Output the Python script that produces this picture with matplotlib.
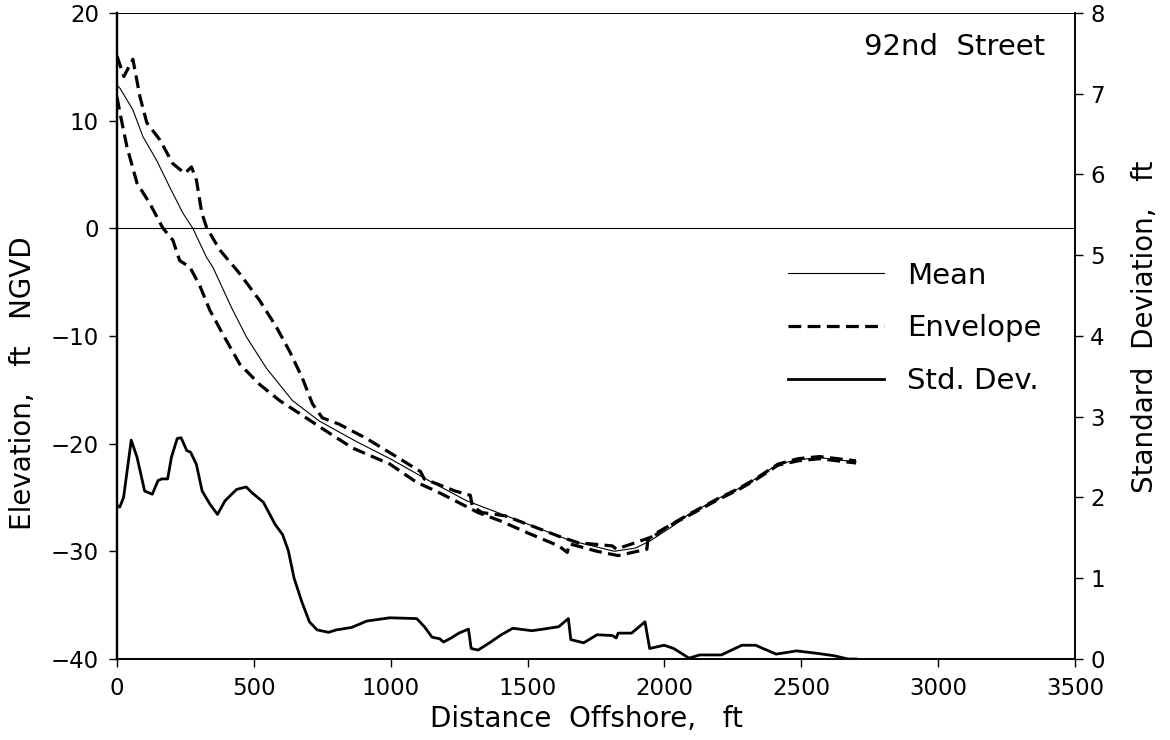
import matplotlib
matplotlib.use("Agg")
import matplotlib.pyplot as plt

plt.rcParams['font.family'] = ['DejaVu Sans']

# profile values (x in ft offshore, elevation in ft NGVD)
mean_x = [0, 11, 58, 95, 145, 193, 241, 277, 327, 350, 419, 473, 546, 641, 739, 874,
          1005, 1137, 1277, 1473, 1656, 1817, 1894, 1950, 2034, 2087, 2196, 2269, 2331,
          2415, 2488, 2567, 2633, 2700]
mean_y = [13.3, 13.0, 11.0, 8.5, 6.3, 3.8, 1.4, 0.0, -2.7, -3.6, -7.4, -10.1, -13.0, -16.0,
          -17.9, -19.8, -21.5, -23.4, -25.3, -27.2, -29.0, -30.0, -29.7, -29.0, -27.6, -26.6,
          -25.1, -24.2, -23.3, -21.9, -21.5, -21.3, -21.5, -21.7]

upper_x = [0, 25, 58, 84, 109, 157, 204, 248, 272, 290, 310, 327, 375, 448, 521, 583, 630,
           677, 714, 750, 812, 910, 1020, 1109, 1123, 1165, 1235, 1291, 1298, 1333, 1417,
           1501, 1614, 1684, 1810, 1824, 1894, 1950, 1978, 2087, 2196, 2269, 2331, 2415,
           2488, 2567, 2633, 2700]
upper_y = [16.0, 14.1, 15.7, 12.2, 9.8, 8.2, 6.0, 5.1, 5.7, 4.5, 1.4, 0.1, -2.0, -4.2, -6.7,
           -9.2, -11.4, -13.9, -16.3, -17.6, -18.2, -19.5, -21.2, -22.6, -23.3, -23.7, -24.4,
           -24.8, -25.8, -26.4, -26.7, -27.5, -28.6, -29.2, -29.5, -29.8, -29.2, -28.7, -28.2,
           -26.6, -25.1, -24.2, -23.3, -21.9, -21.4, -21.2, -21.4, -21.6]

lower_x = [0, 11, 36, 73, 120, 168, 204, 229, 266, 302, 339, 386, 448, 521, 594, 667, 750,
           860, 997, 1095, 1165, 1235, 1319, 1403, 1501, 1614, 1645, 1653, 1754, 1831, 1936,
           1939, 2006, 2087, 2196, 2269, 2331, 2415, 2488, 2567, 2633, 2700]
lower_y = [12.2, 10.7, 7.6, 4.2, 2.3, 0.0, -1.1, -3.0, -3.6, -5.3, -7.6, -9.8, -12.6, -14.5,
           -16.0, -17.2, -18.6, -20.4, -21.9, -23.6, -24.4, -25.3, -26.4, -27.2, -28.3, -29.5,
           -30.1, -29.3, -30.0, -30.4, -29.8, -29.0, -27.8, -26.7, -25.2, -24.3, -23.4, -22.0,
           -21.6, -21.4, -21.6, -21.8]

std_x = [0, 10, 24, 52, 73, 101, 129, 150, 164, 185, 199, 220, 234, 255, 269, 290, 311, 339,
         367, 395, 437, 472, 493, 535, 577, 605, 626, 647, 675, 703, 731, 773, 801, 857, 913,
         997, 1095, 1123, 1151, 1179, 1193, 1221, 1249, 1284, 1294, 1319, 1361, 1404, 1446,
         1516, 1558, 1614, 1649, 1658, 1705, 1754, 1810, 1824, 1831, 1880, 1929, 1946, 1999,
         2034, 2090, 2129, 2208, 2283, 2333, 2408, 2483, 2557, 2620, 2670, 2700]
std_y = [1.90, 1.88, 2.0, 2.71, 2.50, 2.08, 2.04, 2.21, 2.23, 2.23, 2.50, 2.73, 2.74, 2.58,
         2.56, 2.41, 2.08, 1.92, 1.79, 1.96, 2.10, 2.13, 2.06, 1.94, 1.67, 1.54, 1.34, 1.00,
         0.71, 0.46, 0.36, 0.33, 0.36, 0.39, 0.47, 0.51, 0.50, 0.40, 0.27, 0.25, 0.21, 0.26,
         0.32, 0.37, 0.13, 0.11, 0.20, 0.30, 0.38, 0.35, 0.37, 0.40, 0.50, 0.24, 0.20, 0.30,
         0.29, 0.26, 0.32, 0.32, 0.46, 0.13, 0.17, 0.13, 0.01, 0.05, 0.05, 0.17, 0.17, 0.06,
         0.10, 0.07, 0.04, 0.0, 0.0]

x_ticks = [0, 500, 1000, 1500, 2000, 2500, 3000, 3500]
elev_ticks = [20, 10, 0, -10, -20, -30, -40]
std_ticks = [0, 1, 2, 3, 4, 5, 6, 7, 8]

fig = plt.figure(figsize=(11.7, 7.4), dpi=100)
ax = fig.add_axes([0.100, 0.1095, 0.8188, 0.873])
ax2 = ax.twinx()

env_style = (0, (4, 2))
h_mean, = ax.plot(mean_x, mean_y, color='black', lw=0.8, label='Mean')
h_env, = ax.plot(upper_x, upper_y, color='black', lw=2.3, ls=env_style, label='Envelope')
ax.plot(lower_x, lower_y, color='black', lw=2.3, ls=env_style)
ax.axhline(0, color='black', lw=0.8)
h_std, = ax2.plot(std_x, std_y, color='black', lw=2.0, label='Std. Dev.')

ax.set_xlim(0, 3500)
ax.set_ylim(-40, 20)
ax2.set_ylim(0, 8)
ax.set_xticks(x_ticks)
ax.set_yticks(elev_ticks)
ax2.set_yticks(std_ticks)

ax.tick_params(axis='both', direction='out', length=6, width=1, labelsize=16.5, pad=7)
ax2.tick_params(axis='y', direction='out', length=6, width=1, labelsize=16.5, pad=5)

for a in (ax, ax2):
    a.spines['top'].set_linewidth(0.7)
    a.spines['bottom'].set_linewidth(1.2)
    a.spines['right'].set_linewidth(1.2)
    a.spines['left'].set_linewidth(1.6)

ax.set_xlabel('Distance  Offshore,   ft', fontsize=20)
ax.set_ylabel('Elevation,   ft   NGVD', fontsize=20)
ax2.set_ylabel('Standard  Deviation,   ft', fontsize=20)
ax.xaxis.set_label_coords(0.49, -0.093)
ax.yaxis.set_label_coords(-0.098, 0.427)
ax2.yaxis.set_label_coords(1.073, 0.514)
for lab in (ax.xaxis.label, ax.yaxis.label, ax2.yaxis.label):
    lab.set_verticalalignment('center')

ax.text(0.969, 0.947, '92nd  Street', transform=ax.transAxes, ha='right', va='center',
        fontsize=21)

ax.legend(handles=[h_mean, h_env, h_std], loc='upper left', bbox_to_anchor=(0.70, 0.615),
          frameon=False, fontsize=21, handlelength=3.3, handletextpad=0.8,
          labelspacing=0.85, borderpad=0, borderaxespad=0)

fig.savefig('out.png', dpi=100)
